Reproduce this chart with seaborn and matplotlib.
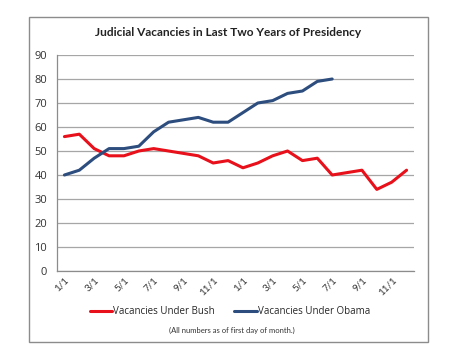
import matplotlib
matplotlib.use("Agg")
import matplotlib.pyplot as plt
from matplotlib.patches import Rectangle
import numpy as np
import pandas as pd
import seaborn as sns

months = [f"{m}/1" for m in range(1, 13)] * 2
bush = [56, 57, 51, 48, 48, 50, 51, 50, 49, 48, 45, 46,
        43, 45, 48, 50, 46, 47, 40, 41, 42, 34, 37, 42]
obama = [40, 42, 47, 51, 51, 52, 58, 62, 63, 64, 62, 62,
         66, 70, 71, 74, 75, 79, 80]

RED = "#E8101A"
BLUE = "#2C4D7E"

sns.set_style("white")
plt.rcParams['font.family'] = ['Lato', 'DejaVu Sans']

df = pd.concat([
    pd.DataFrame({"month": range(len(bush)), "vacancies": bush, "series": "Vacancies Under Bush"}),
    pd.DataFrame({"month": range(len(obama)), "vacancies": obama, "series": "Vacancies Under Obama"}),
])

fig = plt.figure(figsize=(4.58, 3.6), dpi=100)
fig.patches.append(Rectangle((29 / 458, 1 - 342 / 360), 399 / 458, 325 / 360,
                             transform=fig.transFigure, fill=False,
                             edgecolor="#8C8C8C", linewidth=1.0))
ax = fig.add_axes([57 / 458, 1 - 271 / 360, 357 / 458, 216 / 360])

sns.lineplot(data=df, x="month", y="vacancies", hue="series",
             palette=[RED, BLUE], linewidth=2.2, ax=ax, legend=False)

ax.set_xlim(-0.5, 23.5)
ax.set_ylim(0, 90)
ax.set_yticks(range(0, 91, 10))
ax.yaxis.grid(True, color="#A6A6A6", linewidth=0.9)
ax.set_axisbelow(True)
ax.set_xlabel("")
ax.set_ylabel("")

ax.set_xticks(range(0, 24, 2))
ax.set_xticklabels(months[::2], rotation=45, ha="right", rotation_mode="anchor",
                   fontsize=7, color="#333333")
ax.set_xticks(np.arange(-0.5, 24, 2), minor=True)
ax.tick_params(axis="x", which="major", length=0, pad=3)
ax.tick_params(axis="x", which="minor", length=3, color="#8C8C8C", width=0.9)
ax.tick_params(axis="y", length=3, color="#8C8C8C", labelsize=8, labelcolor="#333333", pad=4)
for lab in ax.get_yticklabels():
    lab.set_family(["Open Sans", "DejaVu Sans"])

for s in ["top", "right"]:
    ax.spines[s].set_visible(False)
for s in ["left", "bottom"]:
    ax.spines[s].set_color("#8C8C8C")
    ax.spines[s].set_linewidth(0.9)

fig.text(228 / 458, 1 - 33 / 360, "Judicial Vacancies in Last Two Years of Presidency",
         ha="center", va="center", fontsize=8.6, fontweight="bold", color="#222222")

handles = [plt.Line2D([], [], color=RED, linewidth=2.2),
           plt.Line2D([], [], color=BLUE, linewidth=2.2)]
fig.legend(handles, ["Vacancies Under Bush", "Vacancies Under Obama"],
           loc="center", bbox_to_anchor=(230 / 458, 1 - 312 / 360), ncol=2,
           frameon=False, handlelength=2.3, handletextpad=0.1,
           columnspacing=2.0, prop={"family": ["Open Sans", "DejaVu Sans"], "size": 7})

fig.text(232 / 458, 1 - 330 / 360, "(All numbers as of first day of month.)",
         ha="center", va="center", fontsize=5.5, color="#333333")

fig.savefig("out.png", dpi=100)
